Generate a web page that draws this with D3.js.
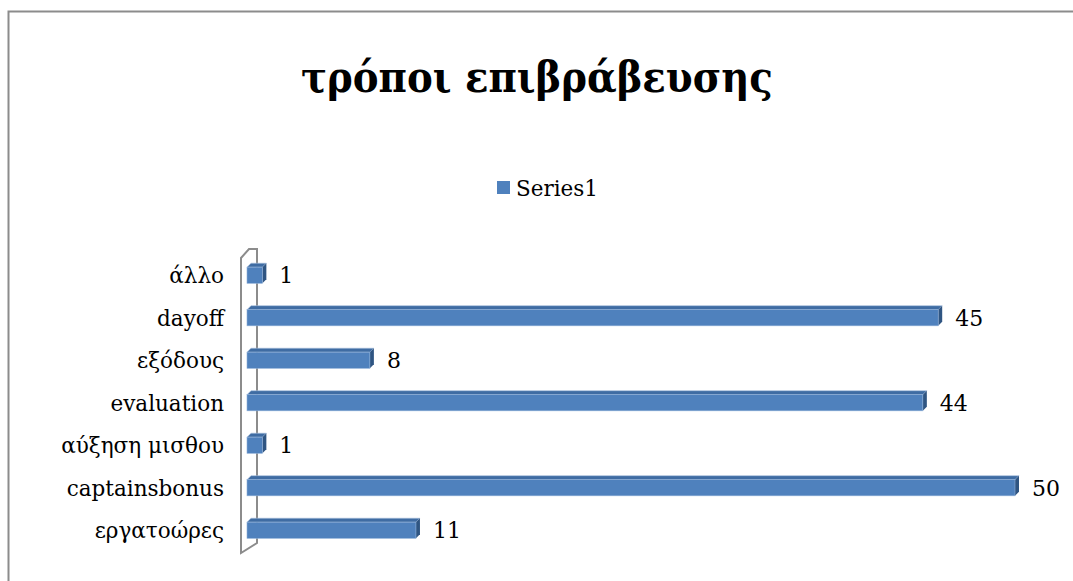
<!DOCTYPE html>
<html>
<head>
<meta charset="utf-8">
<script src="https://cdn.jsdelivr.net/npm/d3@7"></script>
<style>
  html, body { margin: 0; padding: 0; background: #fff; }
  svg { display: block; }
  text { font-family: "DejaVu Serif", "Liberation Serif", serif; fill: #000; }
</style>
</head>
<body>
<svg id="chart" width="1073" height="581"></svg>
<script>
// Categories listed top to bottom as they appear on the axis
const categories = ["άλλο", "dayoff", "εξόδους", "evaluation", "αύξηση μισθου", "captainsbonus", "εργατοώρες"];
const values = [1, 45, 8, 44, 1, 50, 11];
const seriesName = "Series1";
const title = "τρόποι επιβράβευσης";

const svg = d3.select("#chart");

// outer chart frame
svg.append("rect")
  .attr("x", 8.5).attr("y", 11.5)
  .attr("width", 1080).attr("height", 600)
  .attr("fill", "#fff")
  .attr("stroke", "#8c8c8c").attr("stroke-width", 2);

// title
svg.append("text")
  .attr("x", 537).attr("y", 92)
  .attr("text-anchor", "middle")
  .style("font-family", "'DejaVu Serif Condensed', 'DejaVu Serif', serif")
  .style("font-weight", "bold")
  .style("font-size", "43px")
  .text(title);

// legend
svg.append("rect")
  .attr("x", 497).attr("y", 181)
  .attr("width", 13).attr("height", 13)
  .attr("fill", "#4f81bd");
svg.append("text")
  .attr("x", 516).attr("y", 196)
  .style("font-size", "21.5px")
  .text(seriesName);

// scales
const x = d3.scaleLinear().domain([0, 50]).range([247, 1015]);
const y = d3.scaleBand().domain(categories).range([254, 551.5]).paddingInner(0.62).paddingOuter(0.31);

// depth offset of the 3D bars
const dx = 4, dy = -4;

// back wall (value-axis plane)
svg.append("path")
  .attr("d", "M241,258 L241,553 L257,543 L257,249 L249,249 Z")
  .attr("fill", "none")
  .attr("stroke", "#8c8c8c")
  .attr("stroke-width", 2)
  .attr("stroke-linejoin", "miter");

const rows = categories.map((c, i) => ({ c, v: values[i] }));
const bars = svg.append("g").selectAll("g").data(rows).join("g");

// top face
bars.append("path")
  .attr("d", d => {
    const x0 = x(0), x1 = x(d.v), y0 = y(d.c);
    return `M${x0},${y0} L${x0 + dx},${y0 + dy} L${x1 + dx},${y0 + dy} L${x1},${y0} Z`;
  })
  .attr("fill", "#3f6ca3")
  .attr("stroke", "#a9c0dd").attr("stroke-width", 0.6);

// right side face
bars.append("path")
  .attr("d", d => {
    const x1 = x(d.v), y0 = y(d.c), h = y.bandwidth();
    return `M${x1},${y0} L${x1 + dx},${y0 + dy} L${x1 + dx},${y0 + h + dy} L${x1},${y0 + h} Z`;
  })
  .attr("fill", "#2f5582");

// front face
bars.append("rect")
  .attr("x", x(0))
  .attr("y", d => y(d.c))
  .attr("width", d => x(d.v) - x(0))
  .attr("height", y.bandwidth())
  .attr("fill", "#4f81bd")
  .attr("stroke", "#8fb0d8").attr("stroke-width", 0.6);

// value labels
bars.append("text")
  .attr("x", d => x(d.v) + dx + 13)
  .attr("y", d => y(d.c) + y.bandwidth() / 2 + 8)
  .style("font-size", "22px")
  .text(d => d.v);

// category labels
svg.append("g").selectAll("text").data(categories).join("text")
  .attr("x", 224)
  .attr("y", d => y(d) + y.bandwidth() / 2 + 8)
  .attr("text-anchor", "end")
  .style("font-size", "21.5px")
  .text(d => d);
</script>
</body>
</html>
